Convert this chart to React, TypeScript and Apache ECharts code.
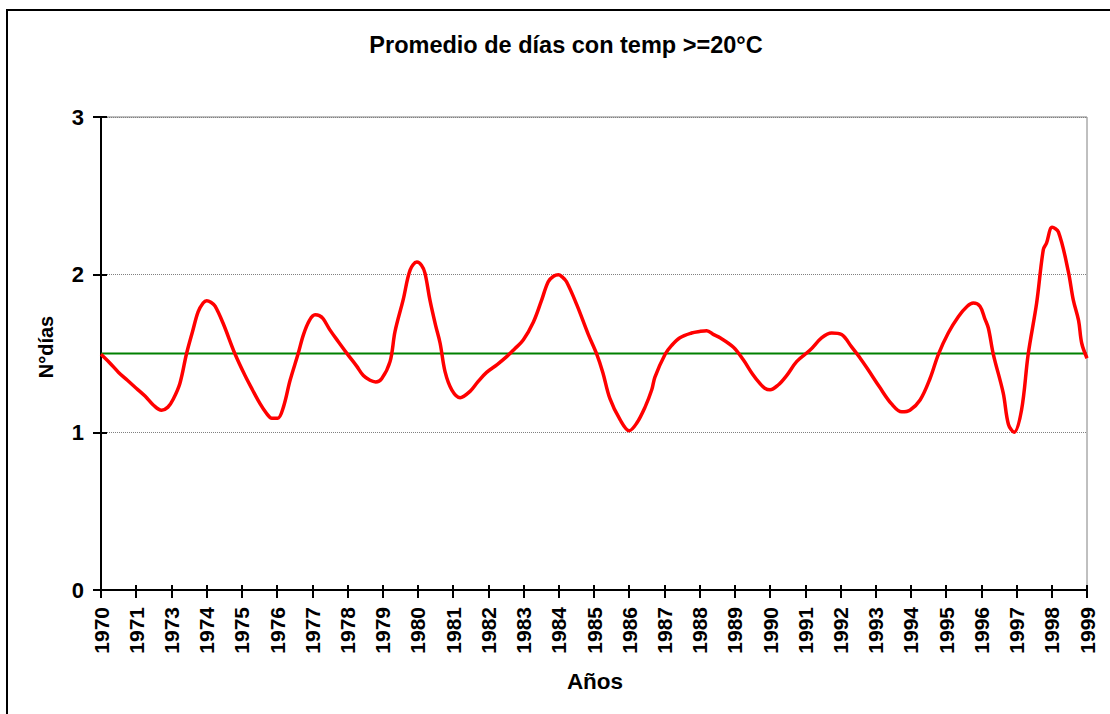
import React, { useEffect, useRef } from "react";
import * as echarts from "echarts";

const years = [
  "1970", "1971", "1973", "1974", "1975", "1976", "1977", "1978", "1979", "1980",
  "1981", "1982", "1983", "1984", "1985", "1986", "1987", "1988", "1989", "1990",
  "1991", "1992", "1993", "1994", "1995", "1996", "1997", "1998", "1999",
];

// position along the category axis (0 = 1970 tick, 28 = 1999 tick)
const xPos = [
  0, 0.25, 0.5, 0.75, 1.0, 1.25, 1.5, 1.72, 1.9, 2.05, 2.24, 2.43, 2.6, 2.76, 2.9, 3.0, 3.12, 3.24, 3.47, 3.8,
  4.09, 4.3, 4.52, 4.7, 4.85, 5.02, 5.18, 5.37, 5.6, 5.75, 5.92, 6.08, 6.2, 6.31, 6.5, 6.74, 7.02, 7.26, 7.45, 7.64,
  7.8, 7.97, 8.21, 8.35, 8.58, 8.78, 8.97, 9.1, 9.2, 9.34, 9.5, 9.63, 9.77, 9.96, 10.2, 10.48, 10.7, 10.95, 11.25, 11.52,
  11.75, 11.99, 12.28, 12.5, 12.7, 12.85, 12.99, 13.1, 13.22, 13.51, 13.84, 14.08, 14.25, 14.45, 14.74, 15.0, 15.21, 15.45, 15.64, 15.73,
  16.02, 16.2, 16.44, 16.77, 17.0, 17.2, 17.4, 17.58, 17.96, 18.24, 18.5, 18.71, 18.85, 19.0, 19.23, 19.47, 19.76, 20.13, 20.47, 20.75,
  21.03, 21.32, 21.56, 21.79, 22.1, 22.45, 22.74, 22.97, 23.26, 23.54, 23.78, 24.06, 24.35, 24.6, 24.77, 24.96, 25.1, 25.2, 25.34, 25.62,
  25.77, 25.93, 26.14, 26.33, 26.57, 26.76, 26.85, 27.01, 27.19, 27.47, 27.61, 27.76, 27.85, 28.0,
];

const dias = [
  1.495, 1.44, 1.38, 1.33, 1.28, 1.23, 1.17, 1.14, 1.16, 1.21, 1.31, 1.5, 1.64, 1.765, 1.82, 1.835, 1.825, 1.8, 1.69, 1.5,
  1.36, 1.27, 1.18, 1.12, 1.09, 1.09, 1.16, 1.33, 1.5, 1.62, 1.71, 1.745, 1.74, 1.72, 1.65, 1.575, 1.49, 1.42, 1.36, 1.33,
  1.32, 1.34, 1.45, 1.64, 1.84, 2.03, 2.08, 2.06, 2.01, 1.84, 1.68, 1.565, 1.385, 1.27, 1.22, 1.26, 1.32, 1.38, 1.43, 1.48,
  1.53, 1.585, 1.7, 1.83, 1.955, 1.99, 2.0, 1.985, 1.955, 1.81, 1.62, 1.495, 1.38, 1.215, 1.08, 1.01, 1.057, 1.16, 1.27, 1.35,
  1.495, 1.55, 1.6, 1.63, 1.64, 1.645, 1.62, 1.6, 1.54, 1.46, 1.37, 1.31, 1.28, 1.27, 1.3, 1.36, 1.45, 1.52, 1.6, 1.63,
  1.62, 1.54, 1.47, 1.395, 1.29, 1.18, 1.13, 1.14, 1.205, 1.34, 1.495, 1.63, 1.735, 1.8, 1.82, 1.8, 1.72, 1.66, 1.495, 1.25,
  1.05, 1.0, 1.14, 1.495, 1.82, 2.16, 2.2, 2.3, 2.27, 2.02, 1.84, 1.71, 1.565, 1.47,
];

const promedioX = [0, 28];
const promedio = [1.5, 1.5];

const yTicks = [0, 1, 2, 3];

const FONT = "'Liberation Sans', Arial, sans-serif";

export default function App() {
  const ref = useRef<HTMLDivElement>(null);

  useEffect(() => {
    document.body.style.margin = "0";
    const chart = echarts.init(ref.current!, null, { renderer: "svg" });

    const redData = xPos.map((x, i) => [x, dias[i]]);
    const greenData = promedioX.map((x, i) => [x, promedio[i]]);

    const baseX = {
      type: "value",
      min: 0,
      max: years.length - 1,
      interval: 1,
      position: "bottom",
    };
    const baseY = {
      type: "value",
      min: yTicks[0],
      max: yTicks[yTicks.length - 1],
      interval: 1,
      position: "left",
    };

    chart.setOption({
      animation: false,
      backgroundColor: "#ffffff",
      grid: {
        left: 101,
        right: 23,
        top: 117,
        bottom: 124,
        containLabel: false,
        outerBoundsMode: "none",
        show: true,
        borderColor: "#808080",
        borderWidth: 1,
        backgroundColor: "transparent",
      },
      xAxis: [
        {
          ...baseX,
          axisLine: { show: true, onZero: false, lineStyle: { color: "#000", width: 2 } },
          axisTick: { show: true, inside: false, length: 8, lineStyle: { color: "#000", width: 2 } },
          axisLabel: {
            show: true,
            rotate: 90,
            margin: 17,
            color: "#000",
            fontFamily: FONT,
            fontWeight: "bold",
            fontSize: 21,
            showMinLabel: true,
            showMaxLabel: true,
            formatter: (v: number) => years[Math.round(v)] ?? "",
          },
          splitLine: { show: false },
        },
        {
          ...baseX,
          axisLine: { show: false, onZero: false },
          axisTick: { show: true, inside: true, length: 5, lineStyle: { color: "#000", width: 2 } },
          axisLabel: { show: false },
          splitLine: { show: false },
        },
      ],
      yAxis: [
        {
          ...baseY,
          axisLine: { show: true, onZero: false, lineStyle: { color: "#000", width: 2 } },
          axisTick: { show: true, inside: false, length: 8, lineStyle: { color: "#000", width: 2 } },
          axisLabel: {
            show: true,
            margin: 17,
            color: "#000",
            fontFamily: FONT,
            fontWeight: "bold",
            fontSize: 22,
          },
          splitLine: { show: true, lineStyle: { color: "#808080", type: "dotted", width: 1 } },
        },
        {
          ...baseY,
          axisLine: { show: false, onZero: false },
          axisTick: { show: true, inside: true, length: 6, lineStyle: { color: "#000", width: 2 } },
          axisLabel: { show: false },
          splitLine: { show: false },
        },
      ],
      series: [
        {
          name: "Promedio",
          type: "line",
          xAxisIndex: 0,
          yAxisIndex: 0,
          data: greenData,
          showSymbol: false,
          symbol: "none",
          lineStyle: { color: "#008000", width: 2 },
          z: 3,
        },
        {
          name: "N°días",
          type: "line",
          xAxisIndex: 0,
          yAxisIndex: 0,
          data: redData,
          showSymbol: false,
          symbol: "none",
          smooth: 0.35,
          lineStyle: { color: "#ff0000", width: 3.5 },
          z: 4,
        },
      ],
      graphic: [
        {
          type: "rect",
          silent: true,
          shape: { x: 7, y: 10, width: 1300, height: 900 },
          style: { fill: "none", stroke: "#000", lineWidth: 2 },
          z: 100,
        },
        {
          type: "text",
          x: 566,
          y: 45,
          style: {
            text: "Promedio de días con temp >=20°C",
            fontFamily: FONT,
            fontWeight: "bold",
            fontSize: 23.5,
            fill: "#000",
            align: "center",
            verticalAlign: "middle",
          },
        },
        {
          type: "text",
          x: 46,
          y: 347,
          rotation: Math.PI / 2,
          style: {
            text: "N°días",
            fontFamily: FONT,
            fontWeight: "bold",
            fontSize: 20,
            fill: "#000",
            align: "center",
            verticalAlign: "middle",
          },
        },
        {
          type: "text",
          x: 595,
          y: 681,
          style: {
            text: "Años",
            fontFamily: FONT,
            fontWeight: "bold",
            fontSize: 22.5,
            fill: "#000",
            align: "center",
            verticalAlign: "middle",
          },
        },
      ],
    });

    return () => {
      chart.dispose();
    };
  }, []);

  return <div ref={ref} style={{ width: 1110, height: 714 }} />;
}
